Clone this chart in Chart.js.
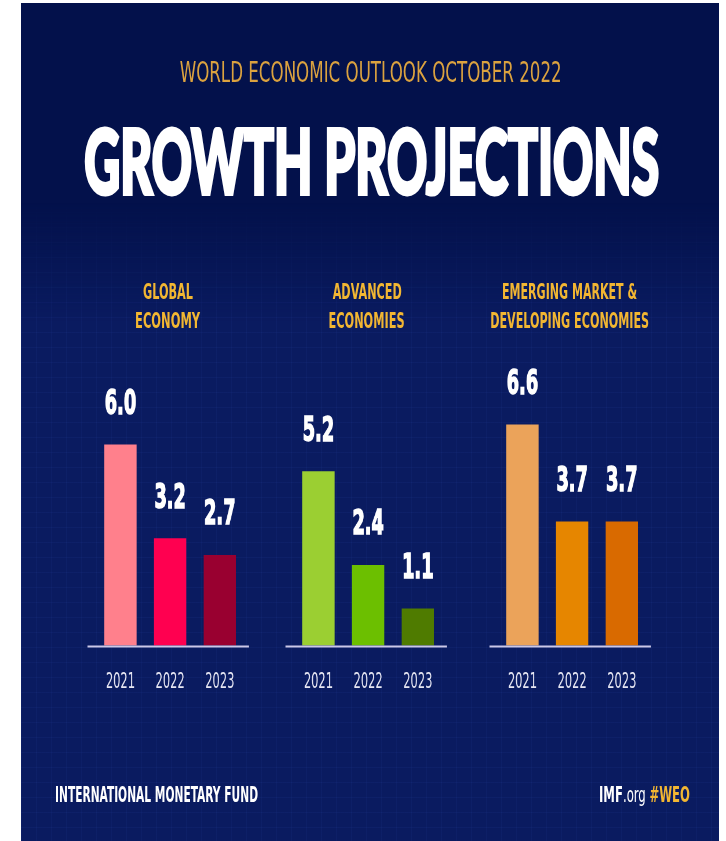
<!DOCTYPE html>
<html>
<head>
<meta charset="utf-8">
<title>Growth Projections</title>
<script src="https://cdn.jsdelivr.net/npm/chart.js@4.4.0/dist/chart.umd.min.js"></script>
<style>
  html, body { margin: 0; padding: 0; background: #fff; }
  body { width: 726px; height: 841px; position: relative; overflow: hidden;
         font-family: "DejaVu Sans Condensed", "Liberation Sans Narrow", sans-serif; }
  #panel { position: absolute; left: 21px; top: 3px; width: 698px; height: 838px; background: #03114b; overflow: hidden; }
  #mesh { position: absolute; left: 0; top: 200px; width: 100%; height: 640px;
          background:
            repeating-linear-gradient(0deg, rgba(70, 110, 230, 0.06) 0 1px, transparent 1px 15px),
            repeating-linear-gradient(90deg, rgba(70, 110, 230, 0.05) 0 1px, transparent 1px 15px),
            #0a1b60;
          -webkit-mask-image: linear-gradient(180deg, transparent 0, #000 120px);
          mask-image: linear-gradient(180deg, transparent 0, #000 120px); }
  .line { position: absolute; white-space: nowrap; line-height: 1; }
  .line span { display: inline-block; }
  .c { width: 1000px; text-align: center; }
  .c span { transform-origin: center top; }
  .l span { transform-origin: left top; }
  .gold { color: #f2b632; font-weight: bold; font-size: 21px; }
  #title { width: 2000px; -webkit-text-stroke: 4px #fff; }
  canvas.grp { position: absolute; transform-origin: 0 0; transform: scaleX(0.58); }
</style>
</head>
<body>
<div id="panel"><div id="mesh"></div></div>

<div class="line c fit" data-w="382" style="left:-129px; top:58px; font-size:29px; color:#dba23f;"><span>WORLD ECONOMIC OUTLOOK OCTOBER 2022</span></div>
<div id="title" class="line c fit" data-w="575" style="left:-628px; top:114px; font-size:90px; color:#fff; font-family:Lato, 'DejaVu Sans', sans-serif; font-weight:900;"><span>GROWTH PROJECTIONS</span></div>

<div class="line c fit gold" data-w="50" style="left:-332px; top:282px;"><span>GLOBAL</span></div>
<div class="line c fit gold" data-w="65" style="left:-332px; top:311px;"><span>ECONOMY</span></div>
<div class="line c fit gold" data-w="69" style="left:-133px; top:282px;"><span>ADVANCED</span></div>
<div class="line c fit gold" data-w="76" style="left:-133px; top:311px;"><span>ECONOMIES</span></div>
<div class="line c fit gold" data-w="135" style="left:70px; top:282px;"><span>EMERGING MARKET &amp;</span></div>
<div class="line c fit gold" data-w="159" style="left:70px; top:311px;"><span>DEVELOPING ECONOMIES</span></div>

<canvas id="cGlobal" class="grp" width="297" height="420" style="left:84px; top:300px;"></canvas>
<canvas id="cAdvanced" class="grp" width="297" height="420" style="left:282px; top:300px;"></canvas>
<canvas id="cEmerging" class="grp" width="297" height="420" style="left:486px; top:300px;"></canvas>

<div class="line l fit" data-w="203" style="left:55px; top:784px; font-size:22px; color:#fff; font-weight:bold;"><span>INTERNATIONAL MONETARY FUND</span></div>
<div class="line l fit" data-w="91" style="left:599px; top:784px; font-size:22px; color:#fff;"><span><b>IMF</b>.org <b style="color:#f2b632;">#WEO</b></span></div>

<script>
var years = ['2021', '2022', '2023'];
var globalEconomy = [6.0, 3.2, 2.7];
var advancedEconomies = [5.2, 2.4, 1.1];
var emergingEconomies = [6.6, 3.7, 3.7];

var globalColors = ['#ff808c', '#ff0050', '#990030'];
var advancedColors = ['#9bcf32', '#6cbf00', '#4f7b00'];
var emergingColors = ['#eba35a', '#e68600', '#d96a00'];

var condensed = '"DejaVu Sans Condensed", "Liberation Sans Narrow", sans-serif';

// squeeze each header line to its width in the reference
function fitLines() {
    document.querySelectorAll('.fit').forEach(function (el) {
        var span = el.firstElementChild;
        var w = span.getBoundingClientRect().width;
        var target = parseFloat(el.getAttribute('data-w'));
        if (w > 0) span.style.transform = 'scaleX(' + (target / w) + ')';
    });
}

// baseline under the bars + value labels above each bar
var barDecor = {
    id: 'barDecor',
    afterDatasetsDraw: function (chart) {
        var ctx = chart.ctx;
        var area = chart.chartArea;
        var base = chart.scales.y.getPixelForValue(0);
        ctx.save();
        ctx.strokeStyle = '#cbc8e8';
        ctx.lineWidth = 2;
        ctx.beginPath();
        ctx.moveTo(area.left - 14, base + 1);
        ctx.lineTo(area.right + 7, base + 1);
        ctx.stroke();

        ctx.fillStyle = '#ffffff';
        ctx.strokeStyle = '#ffffff';
        ctx.lineWidth = 1.5;
        ctx.font = 'bold 34px ' + condensed;
        ctx.textAlign = 'center';
        ctx.textBaseline = 'alphabetic';
        var values = chart.data.datasets[0].data;
        chart.getDatasetMeta(0).data.forEach(function (bar, i) {
            var txt = values[i].toFixed(1);
            ctx.fillText(txt, bar.x, bar.y - 31);
            ctx.strokeText(txt, bar.x, bar.y - 31);
        });
        ctx.restore();
    }
};

function makeChart(id, values, colors) {
    var ctx = document.getElementById(id).getContext('2d');
    return new Chart(ctx, {
        type: 'bar',
        data: {
            labels: years,
            datasets: [{ data: values, backgroundColor: colors, borderWidth: 0, barThickness: 55 }]
        },
        options: {
            responsive: false,
            animation: false,
            layout: { padding: { left: 20, right: 20, top: 11, bottom: 2 } },
            scales: {
                x: {
                    grid: { display: false, drawTicks: false },
                    border: { display: false },
                    ticks: { color: '#e6e6f2', padding: 23, font: { family: condensed, size: 22 } }
                },
                y: { display: false, min: 0, max: 10 }
            },
            plugins: { legend: { display: false }, tooltip: { enabled: false } }
        },
        plugins: [barDecor]
    });
}

fitLines();
makeChart('cGlobal', globalEconomy, globalColors);
makeChart('cAdvanced', advancedEconomies, advancedColors);
makeChart('cEmerging', emergingEconomies, emergingColors);
</script>
</body>
</html>
